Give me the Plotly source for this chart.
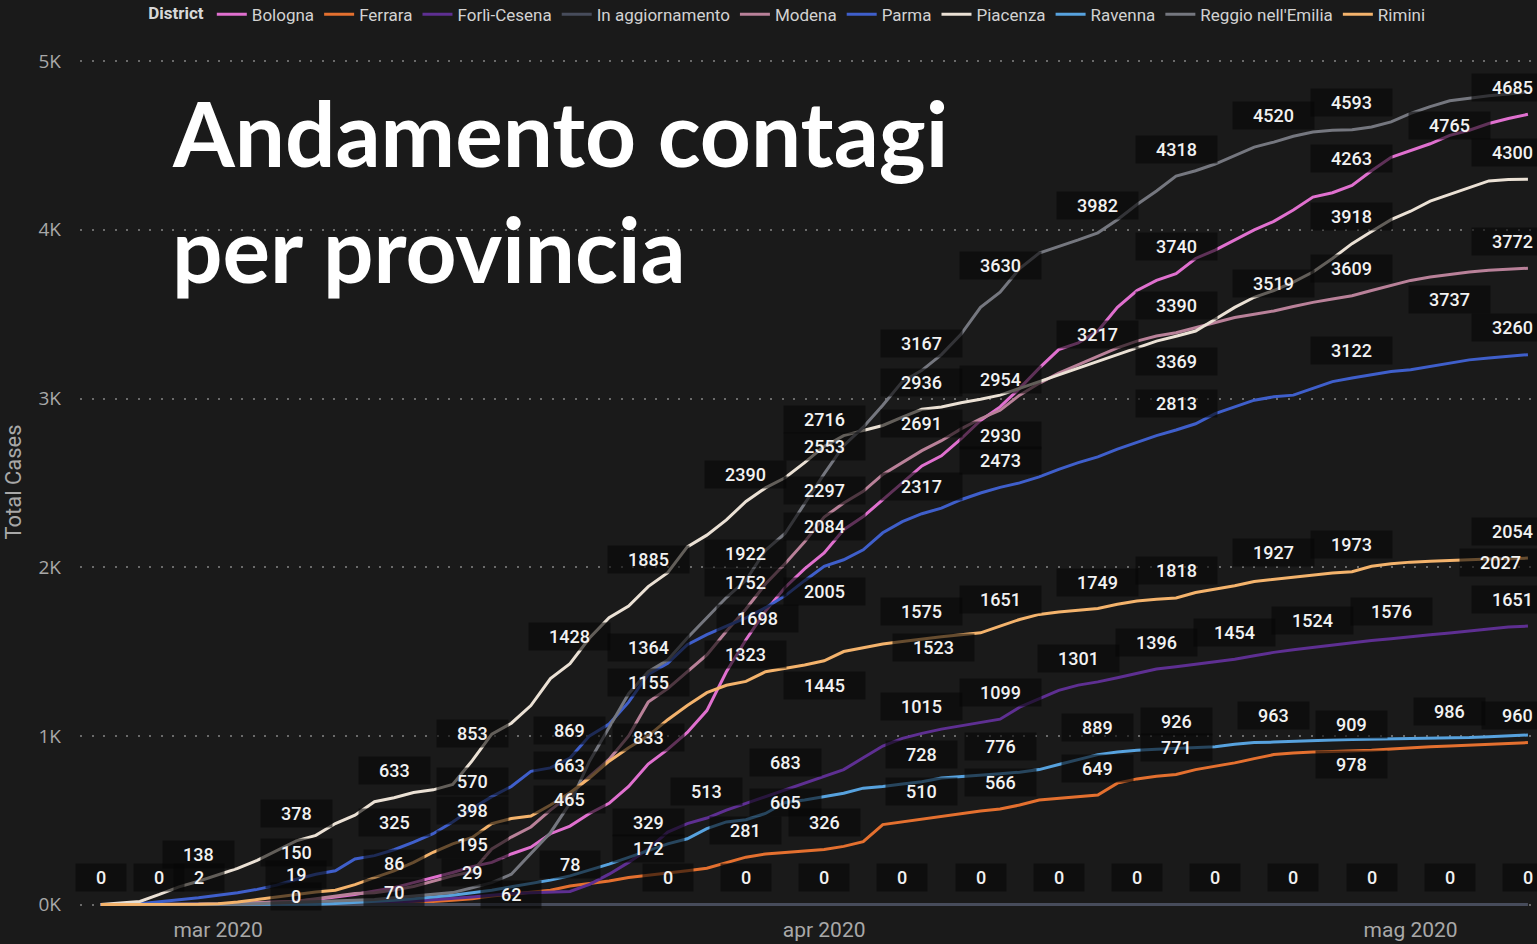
import pandas as pd
import plotly.graph_objects as go

# ---------------- data ----------------
dates = pd.date_range("2020-02-24", "2020-05-07", freq="D")

bologna = [0, 0, 0, 0, 0, 0, 2, 5, 10, 15,
           20, 30, 45, 60, 80, 100, 130, 160, 190, 225,
           250, 300, 340, 420, 465, 540, 600, 700, 833, 920,
           1020, 1150, 1380, 1570, 1740, 1880, 1990, 2084, 2222, 2300,
           2400, 2500, 2600, 2660, 2760, 2870, 2950, 3060, 3180, 3290,
           3330, 3400, 3540, 3640, 3700, 3740, 3830, 3880, 3940, 4000,
           4050, 4117, 4194, 4220, 4263, 4350, 4430, 4470, 4510, 4560,
           4590, 4630, 4660, 4685]
ferrara = [0, 0, 0, 0, 0, 0, 0, 0, 0, 0,
           0, 0, 0, 0, 2, 5, 10, 18, 25, 35,
           50, 62, 75, 85, 110, 125, 140, 160, 172, 185,
           200, 215, 250, 281, 300, 310, 318, 326, 345, 373,
           474, 490, 510, 522, 540, 555, 566, 590, 620, 630,
           640, 649, 720, 745, 760, 771, 800, 820, 840, 865,
           889, 898, 905, 907, 909, 915, 922, 930, 935, 940,
           945, 948, 955, 960]
forli_cesena = [0, 0, 0, 0, 0, 0, 0, 0, 0, 0,
                0, 0, 3, 6, 10, 15, 20, 28, 35, 45,
                55, 65, 70, 75, 78, 120, 180, 250, 329, 430,
                480, 513, 560, 600, 640, 683, 720, 760, 800, 870,
                940, 985, 1015, 1040, 1060, 1080, 1099, 1170, 1220, 1270,
                1301, 1320, 1345, 1370, 1396, 1410, 1425, 1440, 1454, 1475,
                1495, 1510, 1524, 1540, 1555, 1565, 1576, 1590, 1600, 1610,
                1620, 1633, 1645, 1651]
in_aggiornamento = [0] * 74
modena = [0, 0, 0, 0, 0, 2, 4, 7, 10, 14,
          19, 35, 50, 65, 70, 86, 107, 140, 170, 195,
          330, 400, 460, 560, 650, 760, 860, 1000, 1200, 1280,
          1380, 1480, 1620, 1752, 1900, 2020, 2150, 2297, 2380, 2450,
          2550, 2620, 2691, 2750, 2820, 2880, 2930, 3020, 3090, 3150,
          3200, 3250, 3300, 3340, 3370, 3390, 3420, 3450, 3480, 3500,
          3519, 3545, 3570, 3590, 3609, 3640, 3670, 3700, 3720, 3737,
          3750, 3760, 3768, 3772]
parma = [0, 0, 5, 15, 28, 40, 55, 70, 90, 115,
         150, 180, 200, 270, 290, 325, 370, 420, 490, 570,
         640, 700, 790, 810, 869, 1000, 1070, 1200, 1364, 1430,
         1540, 1600, 1650, 1700, 1760, 1830, 1920, 2005, 2044, 2103,
         2204, 2270, 2317, 2350, 2400, 2440, 2473, 2500, 2535, 2580,
         2620, 2654, 2700, 2740, 2780, 2813, 2850, 2910, 2950, 2990,
         3010, 3020, 3060, 3100, 3122, 3140, 3160, 3170, 3190, 3210,
         3229, 3240, 3250, 3260]
piacenza = [0, 10, 18, 60, 105, 138, 175, 215, 262, 320,
            378, 410, 480, 530, 610, 633, 664, 680, 712, 853,
            1010, 1075, 1180, 1340, 1428, 1580, 1700, 1770, 1885, 1967,
            2120, 2190, 2280, 2390, 2470, 2530, 2620, 2716, 2780, 2810,
            2840, 2890, 2936, 2950, 2975, 2995, 3020, 3060, 3100, 3140,
            3180, 3217, 3260, 3300, 3340, 3369, 3400, 3470, 3540, 3600,
            3640, 3690, 3750, 3830, 3918, 3990, 4060, 4110, 4170, 4210,
            4250, 4290, 4298, 4300]
ravenna = [0, 0, 0, 0, 0, 0, 0, 0, 0, 0,
           0, 2, 6, 12, 18, 25, 35, 45, 55, 70,
           85, 105, 125, 145, 170, 205, 240, 280, 320, 360,
           390, 450, 490, 503, 540, 605, 620, 640, 660, 690,
           700, 715, 728, 750, 760, 770, 776, 785, 800, 830,
           860, 889, 905, 915, 920, 926, 930, 935, 950, 960,
           963, 968, 972, 975, 978, 980, 982, 984, 985, 986,
           990, 995, 1000, 1005]
reggio_emilia = [0, 0, 0, 0, 0, 0, 0, 2, 5, 9,
                 12, 15, 20, 25, 30, 40, 50, 60, 71, 100,
                 130, 180, 300, 426, 600, 850, 1050, 1250, 1380, 1450,
                 1580, 1700, 1820, 1922, 2100, 2200, 2380, 2553, 2720, 2830,
                 2960, 3100, 3167, 3260, 3380, 3540, 3630, 3770, 3862, 3900,
                 3940, 3982, 4060, 4150, 4230, 4318, 4350, 4390, 4440, 4490,
                 4520, 4555, 4580, 4590, 4593, 4610, 4640, 4690, 4730, 4765,
                 4780, 4795, 4805, 4816]
rimini = [0, 0, 0, 0, 0, 2, 5, 15, 30, 45,
          60, 75, 85, 118, 160, 200, 250, 310, 360, 398,
          480, 510, 525, 590, 663, 750, 850, 930, 1000, 1096,
          1180, 1256, 1300, 1323, 1380, 1400, 1420, 1445, 1500, 1522,
          1545, 1560, 1575, 1588, 1600, 1611, 1651, 1690, 1720, 1735,
          1745, 1755, 1780, 1800, 1810, 1818, 1850, 1870, 1890, 1915,
          1927, 1940, 1955, 1965, 1973, 2005, 2020, 2030, 2035, 2040,
          2044, 2048, 2050, 2054]

series_names = ["Bologna", "Ferrara", "Forlì-Cesena", "In aggiornamento", "Modena",
                "Parma", "Piacenza", "Ravenna", "Reggio nell'Emilia", "Rimini"]
series_values = [bologna, ferrara, forli_cesena, in_aggiornamento, modena,
                 parma, piacenza, ravenna, reggio_emilia, rimini]

# data labels shown in the picture: date, value, placement
label_dates = (["2020-02-24", "2020-02-27"]
               + ["2020-02-29"] * 2
               + ["2020-03-05"] * 4
               + ["2020-03-10"] * 4
               + ["2020-03-14"] * 5
               + ["2020-03-16"]
               + ["2020-03-19"] * 5
               + ["2020-03-23"] * 6
               + ["2020-03-24", "2020-03-26"]
               + ["2020-03-28"] * 7
               + ["2020-03-30"] * 2
               + ["2020-04-01"] * 8
               + ["2020-04-05"]
               + ["2020-04-06"] * 9
               + ["2020-04-09"]
               + ["2020-04-10"] * 8
               + ["2020-04-13", "2020-04-14"]
               + ["2020-04-15"] * 5
               + ["2020-04-17", "2020-04-18"]
               + ["2020-04-19"] * 8
               + ["2020-04-21", "2020-04-22"]
               + ["2020-04-24"] * 4
               + ["2020-04-25", "2020-04-26"]
               + ["2020-04-28"] * 8
               + ["2020-04-29", "2020-04-30"]
               + ["2020-05-03"] * 4
               + ["2020-05-06"]
               + ["2020-05-07"] * 8)
label_values = ([0, 0]
                + [138, 2]
                + [378, 150, 19, 0]
                + [633, 325, 86, 70]
                + [853, 570, 398, 195, 29]
                + [62]
                + [1428, 869, 663, 465, 78]
                + [1885, 1364, 1155, 833, 329, 172]
                + [0, 513]
                + [2390, 1922, 1752, 1698, 1323, 281, 0]
                + [683, 605]
                + [2716, 2553, 2297, 2084, 2005, 1445, 326, 0]
                + [0]
                + [3167, 2936, 2691, 2317, 1575, 1523, 1015, 728, 510]
                + [0]
                + [3630, 2954, 2930, 2473, 1651, 1099, 776, 566]
                + [0, 1301]
                + [3982, 3217, 1749, 889, 649]
                + [0, 1396]
                + [4318, 3740, 3390, 3369, 2813, 1818, 926, 771]
                + [0, 1454]
                + [4520, 3519, 1927, 963]
                + [0, 1524]
                + [4593, 4263, 3918, 3609, 3122, 1973, 909, 978]
                + [0, 1576]
                + [4765, 3737, 986, 0]
                + [2027]
                + [4685, 4300, 3772, 3260, 2054, 1651, 960, 0])
label_place = (["above", "above"]
               + ["above", "above"]
               + ["above", "above", "above", "low"]
               + ["above", "above", "above", "center"]
               + ["above"] * 5
               + ["center"]
               + ["above"] * 5
               + ["above"] * 6
               + ["above", "above"]
               + ["above", "above", "above", "center", "above", "above", "above"]
               + ["above", "center"]
               + ["above", "above", "above", "above", "below", "below", "above", "above"]
               + ["above"]
               + ["above", "above", "above", "above", "above", "center", "above", "above", "above"]
               + ["above"]
               + ["above", "above", "below", "above", "above", "above", "above", "above"]
               + ["above", "above"]
               + ["above"] * 5
               + ["above", "above"]
               + ["above", "above", "above", "below", "above", "above", "above", "above"]
               + ["above", "above"]
               + ["above"] * 4
               + ["above", "above"]
               + ["above"] * 7 + ["below"]
               + ["above", "above"]
               + ["below", "below", "above", "above"]
               + ["center"]
               + ["above"] * 8)

# ---------------- styling ----------------
BG = "#1a1a1a"
colors = {
    "Bologna": "#e070cf",
    "Ferrara": "#e4702f",
    "Forlì-Cesena": "#5e2f92",
    "In aggiornamento": "#474c5b",
    "Modena": "#b98199",
    "Parma": "#3f5fcb",
    "Piacenza": "#ebe1d5",
    "Ravenna": "#57a2de",
    "Reggio nell'Emilia": "#75777f",
    "Rimini": "#f4b36c",
}

fig = go.Figure()
for name, vals in zip(series_names, series_values):
    fig.add_trace(go.Scatter(
        x=dates, y=vals, mode="lines", name=name,
        line=dict(color=colors[name], width=3),
        hoverinfo="skip",
    ))

shift_of = {"above": 27, "below": -25, "center": 0, "low": 8}
nudges = {("2020-03-28", 1698): 12, ("2020-04-06", 1523): 12, ("2020-05-06", 2027): -8}
last_date = "2020-05-07"

annotations = []
for d, v, p in zip(label_dates, label_values, label_place):
    txt = str(v)
    xs = nudges.get((d, v), 0)
    if d == last_date:
        xs = 5 - 5.1 * len(txt)
    annotations.append(dict(
        x=d, y=v, xref="x", yref="y", text=txt, showarrow=False,
        xanchor="center", yanchor="middle", xshift=xs, yshift=shift_of[p],
        font=dict(family="Roboto", size=18, color="#f2f2f2", weight=500),
        bgcolor="rgba(6,6,6,0.6)", width=36 + 10.2 * len(txt), height=23,
        borderpad=2,
    ))

# title overlay (two lines)
title_font = dict(family="Lato", size=89, color="#ffffff", weight=700)
annotations.append(dict(
    x=0.062, y=0.9698, xref="paper", yref="paper",
    text="Andamento contagi", showarrow=False,
    xanchor="left", yanchor="top", align="left", font=title_font,
))
annotations.append(dict(
    x=0.062, y=0.8353, xref="paper", yref="paper",
    text="per provincia", showarrow=False,
    xanchor="left", yanchor="top", align="left", font=title_font,
))

fig.update_layout(
    width=1537, height=944,
    paper_bgcolor=BG, plot_bgcolor=BG,
    margin=dict(l=80, r=2, t=51, b=31, autoexpand=False),
    showlegend=True,
    legend=dict(
        orientation="h", x=0.0455, xanchor="left", y=1.063, yanchor="top",
        font=dict(family="Roboto", size=17, color="#d2d2d2"),
        title=dict(text="<b>District</b>", font=dict(family="Roboto", size=17, color="#d8d8d8")),
        bgcolor="rgba(0,0,0,0)", itemwidth=30, tracegroupgap=0,
    ),
    annotations=annotations,
    xaxis=dict(
        range=["2020-02-22 22:30", "2020-05-07 08:40"],
        tickvals=["2020-03-01", "2020-04-01", "2020-05-01"],
        ticktext=["mar 2020", "apr 2020", "mag 2020"],
        tickfont=dict(family="Roboto", size=21, color="#a8a8a8"),
        showgrid=False, zeroline=False, showline=False, ticks="",
        ticklabelstandoff=2,
    ),
    yaxis=dict(
        range=[-50, 5060],
        tickvals=[0, 1000, 2000, 3000, 4000, 5000],
        ticktext=["0K", "1K", "2K", "3K", "4K", "5K"],
        tickfont=dict(family="Open Sans", size=19, color="#a8a8a8"),
        showgrid=True, gridcolor="#6a6a6a", gridwidth=2, griddash="2px,9.5px",
        zeroline=False, showline=False, ticks="",
        ticklabelstandoff=18,
        title=dict(text="Total Cases", font=dict(family="Roboto", size=22, color="#a8a8a8"), standoff=10),
    ),
)

fig.write_html(
    "out.html",
    config={"displayModeBar": False},
    post_script="document.body.style.margin='0px';document.body.style.overflow='hidden';document.body.style.background='#1a1a1a';",
)
